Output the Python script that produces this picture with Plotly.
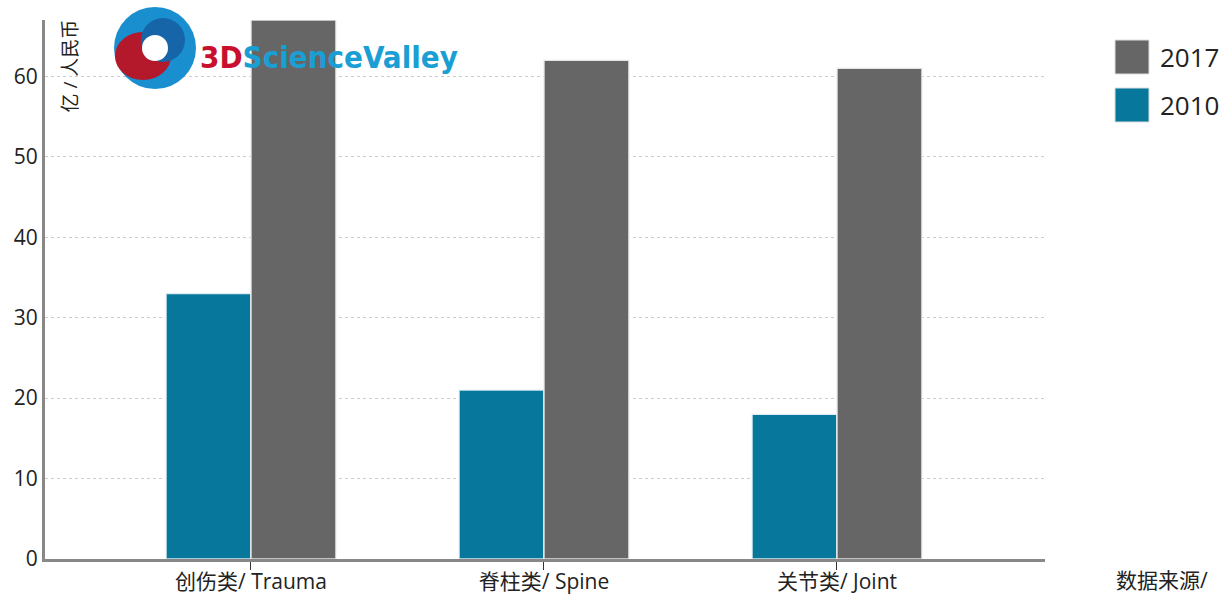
import plotly.graph_objects as go

categories = ["创伤类/ Trauma", "脊柱类/ Spine", "关节类/ Joint"]
values_2010 = [33, 21, 18]
values_2017 = [67, 62, 61]
y_ticks = [0, 10, 20, 30, 40, 50, 60]
series_names = ["2017", "2010"]

TEAL = "#07789c"
GRAY = "#666666"
FONT = "Open Sans, Noto Sans CJK SC, sans-serif"

W, H = 1228, 596
L, R, T, B = 45, 183, 20, 37
PW, PH = W - L - R, H - T - B

def px(x):
    return (x - L) / PW

def py(y):
    return (H - B - y) / PH

fig = go.Figure()
fig.add_bar(x=categories, y=values_2010, name=series_names[1], marker=dict(color=TEAL, line=dict(color="rgba(235,245,250,0.9)", width=1.5)))
fig.add_bar(x=categories, y=values_2017, name=series_names[0], marker=dict(color=GRAY, line=dict(color="rgba(240,240,240,0.9)", width=1.5)))

shapes = []
annotations = []
# legend (manual, large swatches)
for i, (name, col) in enumerate(zip(series_names, [GRAY, TEAL])):
    cy = 57 + i * 48
    shapes.append(dict(type="rect", xref="paper", yref="paper",
                       x0=px(1115), x1=px(1149), y0=py(cy - 17), y1=py(cy + 17),
                       fillcolor=col, line=dict(color="#dddddd", width=1)))
    annotations.append(dict(x=px(1158), y=py(cy), xref="paper", yref="paper",
                            text=name, showarrow=False, xanchor="left", yanchor="middle",
                            font=dict(size=26, color="#222222", family=FONT)))

# y-axis title
annotations.append(dict(x=px(70), y=py(18), xref="paper", yref="paper", text="亿 / 人民币",
                        textangle=-90, showarrow=False, xanchor="center", yanchor="top",
                        font=dict(size=19, color="#222222", family=FONT)))
# source note
annotations.append(dict(x=px(1114), y=py(596), xref="paper", yref="paper", text="数据来源/",
                        showarrow=False, xanchor="left", yanchor="bottom",
                        font=dict(size=21, color="#222222", family=FONT)))

# logo: swirl approximation
cx, cyl, r = 155, 48, 41
shapes.append(dict(type="circle", xref="paper", yref="paper",
                   x0=px(cx - r), x1=px(cx + r), y0=py(cyl + r), y1=py(cyl - r),
                   fillcolor="#1a8fd0", line=dict(width=0), layer="above"))
shapes.append(dict(type="circle", xref="paper", yref="paper",
                   x0=px(cx - r + 1), x1=px(cx + 16), y0=py(cyl + 32), y1=py(cyl - 16),
                   fillcolor="#b3192a", line=dict(width=0), layer="above"))
shapes.append(dict(type="circle", xref="paper", yref="paper",
                   x0=px(cx - 14), x1=px(cx + 30), y0=py(cyl + 14), y1=py(cyl - 30),
                   fillcolor="#1565a8", line=dict(width=0), layer="above"))
shapes.append(dict(type="circle", xref="paper", yref="paper",
                   x0=px(cx - 13), x1=px(cx + 13), y0=py(cyl + 13), y1=py(cyl - 13),
                   fillcolor="white", line=dict(width=0), layer="above"))
annotations.append(dict(x=px(198), y=py(57), xref="paper", yref="paper",
                        text="<b><span style='color:#c8102e'>3D</span>ScienceValley</b>",
                        showarrow=False, xanchor="left", yanchor="middle",
                        font=dict(size=31, color="#1a9fd4", family="DejaVu Sans Condensed, Liberation Sans Narrow, sans-serif")))

fig.update_layout(
    width=W, height=H,
    margin=dict(l=L, r=R, t=T, b=B, pad=0, autoexpand=False),
    paper_bgcolor="white", plot_bgcolor="white",
    barmode="group", bargap=0.42, bargroupgap=0,
    showlegend=False,
    font=dict(family=FONT, size=21, color="#222222"),
    shapes=shapes, annotations=annotations,
    xaxis=dict(range=[-0.703, 2.71], showline=True, linecolor="#888888", linewidth=3,
               ticks="outside", ticklen=8, tickcolor="#333333", tickwidth=1,
               ticklabelstandoff=-6,
               tickfont=dict(size=21), showgrid=False, fixedrange=True, automargin=False),
    yaxis=dict(range=[0, 67], tickvals=y_ticks, showline=True, linecolor="#888888", linewidth=3,
               ticks="", showgrid=True, gridcolor="#cccccc", griddash="3px,3px", gridwidth=1,
               zeroline=False, tickfont=dict(size=21), layer="above traces", fixedrange=True,
               automargin=False),
)

fig.write_html("out.html")
